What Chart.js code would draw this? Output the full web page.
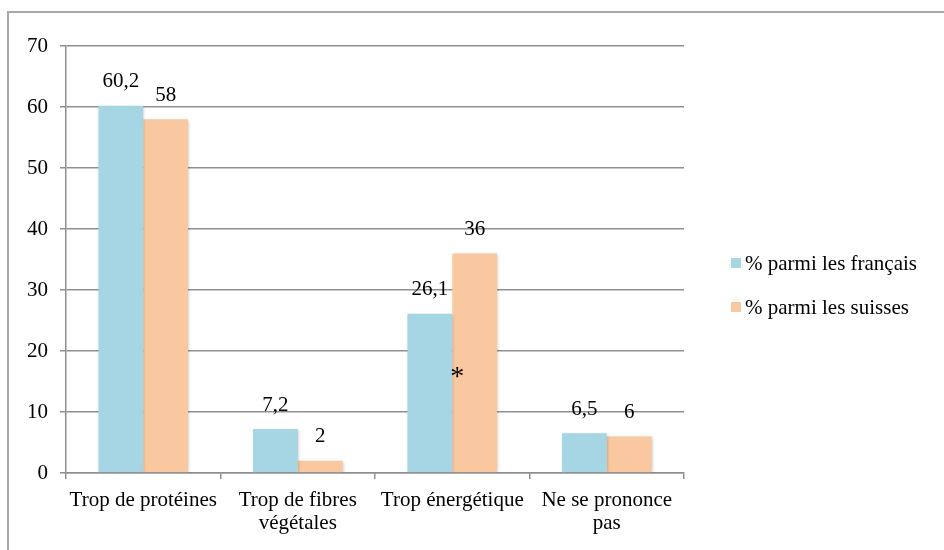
<!DOCTYPE html>
<html>
<head>
<meta charset="utf-8">
<script src="https://cdn.jsdelivr.net/npm/chart.js@4/dist/chart.umd.min.js"></script>
<style>
  html, body { margin: 0; padding: 0; background: #fff; }
  canvas { display: block; }
</style>
</head>
<body>
<canvas id="chart" width="944" height="550"></canvas>
<script>
const categories = [
  'Trop de protéines',
  ['Trop de fibres', 'végétales'],
  'Trop énergétique',
  ['Ne se prononce', 'pas']
];
const seriesNames = ['% parmi les français', '% parmi les suisses'];
const francais = [60.2, 7.2, 26.1, 6.5];
const suisses = [58, 2, 36, 6];
const yTicks = [0, 10, 20, 30, 40, 50, 60, 70];

// asterisk marking the significant difference
const starCategory = 2;
const starValue = 16.5;

const FONT = '"Liberation Serif", "Times New Roman", serif';
const BLUE = '#a6d6e3';
const ORANGE = '#fac8a0';
const GRID = '#8f8f8f';

function fmt(v) {
  return String(v).replace('.', ',');
}

const framePlugin = {
  id: 'frame',
  beforeDraw(chart) {
    const ctx = chart.ctx;
    ctx.save();
    ctx.strokeStyle = '#a8a8a8';
    ctx.lineWidth = 2;
    ctx.beginPath();
    ctx.moveTo(8, chart.height);
    ctx.lineTo(8, 12);
    ctx.lineTo(chart.width, 12);
    ctx.stroke();
    ctx.restore();
  }
};

const shadowPlugin = {
  id: 'barShadow',
  beforeDatasetsDraw(chart) {
    const ctx = chart.ctx;
    ctx.save();
    ctx.shadowColor = 'rgba(0,0,0,0.22)';
    ctx.shadowBlur = 3;
    ctx.shadowOffsetX = 1;
    ctx.shadowOffsetY = 1;
  },
  afterDatasetsDraw(chart) {
    chart.ctx.restore();
  }
};

const labelsPlugin = {
  id: 'valueLabels',
  afterDatasetsDraw(chart) {
    const ctx = chart.ctx;
    ctx.save();
    ctx.font = '21px ' + FONT;
    ctx.fillStyle = '#000';
    ctx.textAlign = 'center';
    ctx.textBaseline = 'middle';
    chart.data.datasets.forEach((ds, i) => {
      chart.getDatasetMeta(i).data.forEach((bar, j) => {
        ctx.fillText(fmt(ds.data[j]), bar.x, bar.y - 24);
      });
    });
    // asterisk
    const xs = chart.scales.x, ys = chart.scales.y;
    ctx.font = '28px ' + FONT;
    ctx.fillText('*', xs.getPixelForValue(starCategory) + 5, ys.getPixelForValue(starValue) + 5);
    ctx.restore();
  }
};

const legendPlugin = {
  id: 'sideLegend',
  afterDraw(chart) {
    const ctx = chart.ctx;
    ctx.save();
    ctx.font = '21px ' + FONT;
    ctx.textBaseline = 'middle';
    ctx.textAlign = 'left';
    chart.data.datasets.forEach((ds, i) => {
      const y = 263 + i * 44;
      ctx.fillStyle = ds.backgroundColor;
      ctx.fillRect(731, y - 5, 10, 10);
      ctx.fillStyle = '#000';
      ctx.fillText(ds.label, 745, y + 1);
    });
    ctx.restore();
  }
};

new Chart(document.getElementById('chart'), {
  type: 'bar',
  data: {
    labels: categories,
    datasets: [
      { label: seriesNames[0], data: francais, backgroundColor: BLUE },
      { label: seriesNames[1], data: suisses, backgroundColor: ORANGE }
    ]
  },
  options: {
    responsive: false,
    devicePixelRatio: 1,
    animation: false,
    layout: { padding: { top: 46, right: 260, bottom: 0, left: 0 } },
    datasets: {
      bar: { categoryPercentage: 0.58, barPercentage: 1, borderWidth: 0 }
    },
    plugins: {
      legend: { display: false },
      tooltip: { enabled: false }
    },
    scales: {
      x: {
        afterFit(scale) { scale.height = 77; },
        grid: { drawOnChartArea: false, drawTicks: true, tickLength: 6, color: GRID, lineWidth: 1.5 },
        border: { display: true, color: GRID, width: 1.5 },
        ticks: { color: '#000', font: { family: FONT, size: 21, lineHeight: 1.1 }, padding: 10, maxRotation: 0, autoSkip: false }
      },
      y: {
        min: 0,
        max: 70,
        afterFit(scale) { scale.width = 66; },
        afterBuildTicks(scale) { scale.ticks = yTicks.map(v => ({ value: v })); },
        grid: { color: GRID, lineWidth: 1.5, tickLength: 6 },
        border: { display: true, color: GRID, width: 1.5 },
        ticks: { color: '#000', font: { family: FONT, size: 21 }, padding: 12 }
      }
    }
  },
  plugins: [framePlugin, shadowPlugin, labelsPlugin, legendPlugin]
});
</script>
</body>
</html>
